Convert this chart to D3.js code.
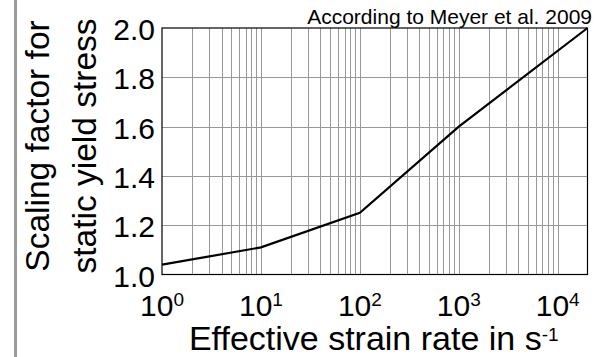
<!DOCTYPE html>
<html>
<head>
<meta charset="utf-8">
<script src="https://cdn.jsdelivr.net/npm/d3@7"></script>
<style>
  body { margin: 0; background: #fff; }
  text { font-family: "Liberation Sans", Arial, sans-serif; fill: #000; }
</style>
</head>
<body>
<div id="chart"></div>
<script>
// data
var strainRate = [1, 10, 100, 1000, 20000];
var scaleFactor = [1.04, 1.11, 1.25, 1.6, 2.0];
var yTicks = [1.0, 1.2, 1.4, 1.6, 1.8, 2.0];
var xDecades = [0, 1, 2, 3, 4];

var W = 608, H = 357;
var margin = {top: 28, right: 20.5, bottom: 82.5, left: 162},
    width = W - margin.left - margin.right,
    height = H - margin.top - margin.bottom;

var svg = d3.select("#chart")
  .append("svg")
    .attr("width", W)
    .attr("height", H);

// grey bar on the left
svg.append("rect")
  .attr("x", 14).attr("y", 0)
  .attr("width", 3).attr("height", H)
  .attr("fill", "#9a9a9a");

var g = svg.append("g")
  .attr("transform", "translate(" + margin.left + "," + margin.top + ")");

var x = d3.scaleLog()
  .domain([1, 20000])
  .range([0, width]);

var y = d3.scaleLinear()
  .domain([1, 2])
  .range([height, 0]);

// vertical grid lines (log minor + major)
var xGrid = x.ticks().filter(function(d) { return d > 1 && d < 20000; });
g.selectAll(".vgrid")
  .data(xGrid)
  .enter().append("line")
    .attr("x1", function(d) { return Math.round(x(d)) + 0.5; })
    .attr("x2", function(d) { return Math.round(x(d)) + 0.5; })
    .attr("y1", 0)
    .attr("y2", height)
    .attr("stroke", "#999")
    .attr("stroke-width", 1);

// horizontal grid lines
g.selectAll(".hgrid")
  .data(yTicks.slice(1, -1))
  .enter().append("line")
    .attr("x1", 0)
    .attr("x2", width)
    .attr("y1", function(d) { return Math.round(y(d)) + 0.5; })
    .attr("y2", function(d) { return Math.round(y(d)) + 0.5; })
    .attr("stroke", "#999")
    .attr("stroke-width", 1);

// frame
g.append("rect")
  .attr("x", 0).attr("y", 0)
  .attr("width", width).attr("height", height)
  .attr("fill", "none")
  .attr("stroke", "#000")
  .attr("stroke-width", 1.2);

// the curve
g.append("path")
  .datum(d3.zip(strainRate, scaleFactor))
  .attr("fill", "none")
  .attr("stroke", "#000")
  .attr("stroke-width", 2.2)
  .attr("d", d3.line()
    .x(function(d) { return x(d[0]); })
    .y(function(d) { return y(d[1]); }));

// y tick labels
g.selectAll(".ylab")
  .data(yTicks)
  .enter().append("text")
    .attr("x", -7)
    .attr("y", function(d) { return y(d); })
    .attr("dy", "0.4em")
    .attr("text-anchor", "end")
    .style("font-size", "30px")
    .text(function(d) { return d.toFixed(1); });

// x tick labels: 10^n
var xl = g.selectAll(".xlab")
  .data(xDecades)
  .enter().append("text")
    .attr("x", function(d) { return x(Math.pow(10, d)); })
    .attr("y", height + 41.5)
    .attr("text-anchor", "middle")
    .style("font-size", "30px");
xl.append("tspan").text("10");
xl.append("tspan")
  .attr("dy", -10)
  .style("font-size", "19px")
  .text(function(d) { return d; });

// x axis title
var xt = g.append("text")
  .attr("x", width / 2 - 1)
  .attr("y", height + 75.5)
  .attr("text-anchor", "middle")
  .style("font-size", "34px");
xt.append("tspan").text("Effective strain rate in s");
xt.append("tspan")
  .attr("dy", -9.5)
  .style("font-size", "19px")
  .text("-1");

// y axis title, two lines
var yt = svg.append("text")
  .attr("transform", "translate(49,146) rotate(-90)")
  .attr("text-anchor", "middle")
  .style("font-size", "33.5px");
yt.append("tspan").attr("x", 0).attr("y", 0).text("Scaling factor for");
yt.append("tspan").attr("x", 0).attr("y", 47).text("static yield stress");

// source note
svg.append("text")
  .attr("x", 592)
  .attr("y", 24)
  .attr("text-anchor", "end")
  .style("font-size", "21px")
  .text("According to Meyer et al. 2009");
</script>
</body>
</html>
